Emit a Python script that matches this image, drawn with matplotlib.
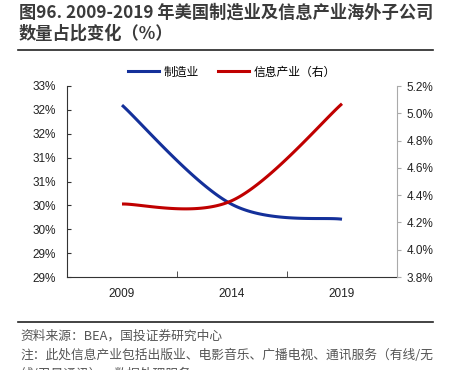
import numpy as np
import matplotlib
matplotlib.use("Agg")
import matplotlib.pyplot as plt
from matplotlib.lines import Line2D

plt.rcParams['font.family'] = ['Noto Sans CJK SC', 'DejaVu Sans']

# data
years = ['2009', '2014', '2019']
manufacturing = [32.60, 30.52, 30.21]   # left axis, %
info_industry = [4.335, 4.36, 5.07]     # right axis, %

left_ticks = [29, 29.5, 30, 30.5, 31, 31.5, 32, 32.5, 33]
left_labels = ['29%', '29%', '30%', '30%', '31%', '31%', '32%', '32%', '33%']
right_ticks = [3.8, 4.0, 4.2, 4.4, 4.6, 4.8, 5.0, 5.2]

BLUE = '#14309a'
RED = '#c00000'


def smooth(xs, ys, n=60):
    # excel-like smoothed line: cubic bezier through the points
    pts = np.column_stack([xs, ys]).astype(float)
    ext = np.vstack([pts[0], pts, pts[-1]])
    out = []
    for i in range(len(pts) - 1):
        p0, p1 = ext[i + 1], ext[i + 2]
        c1 = p0 + (ext[i + 2] - ext[i]) / 6
        c2 = p1 - (ext[i + 3] - ext[i + 1]) / 6
        t = np.linspace(0, 1, n)[:, None]
        seg = ((1 - t) ** 3) * p0 + 3 * ((1 - t) ** 2) * t * c1 + 3 * (1 - t) * t ** 2 * c2 + t ** 3 * p1
        out.append(seg)
    out = np.vstack(out)
    return out[:, 0], out[:, 1]


fig = plt.figure(figsize=(4.49, 3.70), dpi=100)
ax = fig.add_axes([67 / 449, 1 - 277 / 370, 330 / 449, 191 / 370])
ax2 = ax.twinx()

x = np.arange(len(years))
bx, by = smooth(x, manufacturing)
rx, ry = smooth(x, info_industry)
ax.plot(bx, by, color=BLUE, lw=2.2, solid_capstyle='butt')
ax2.plot(rx, ry, color=RED, lw=2.2, solid_capstyle='butt')

ax.set_xlim(-0.5, 2.5)
ax.set_ylim(29, 33)
ax2.set_ylim(3.8, 5.2)

ax.set_xticks(x)
ax.set_xticklabels(years)
ax.set_xticks([0.5, 1.5], minor=True)
ax.tick_params(axis='x', which='major', length=0, pad=8, labelsize=8.5)
ax.tick_params(axis='x', which='minor', length=4, direction='in', color='#333333')

ax.set_yticks(left_ticks)
ax.set_yticklabels(left_labels)
ax.tick_params(axis='y', length=3, direction='in', labelsize=8.5, pad=8, color='#333333')

ax2.set_yticks(right_ticks)
ax2.set_yticklabels(['%.1f%%' % v for v in right_ticks])
ax2.tick_params(axis='y', length=3, direction='out', labelsize=8.5, pad=4, color='#aaaaaa')

for a in (ax, ax2):
    for lab in a.get_xticklabels() + a.get_yticklabels():
        lab.set_family(['Liberation Sans', 'DejaVu Sans'])
        lab.set_color('#222222')
    a.spines['top'].set_visible(False)

ax.spines['left'].set_color('#333333')
ax.spines['bottom'].set_color('#333333')
ax.spines['right'].set_visible(False)
ax2.spines['left'].set_visible(False)
ax2.spines['bottom'].set_visible(False)
ax2.spines['right'].set_color('#aaaaaa')

handles = [Line2D([], [], color=BLUE, lw=2.2), Line2D([], [], color=RED, lw=2.2)]
fig.legend(handles, ['制造业', '信息产业（右）'], loc='center', bbox_to_anchor=(232 / 449, 1 - 72 / 370),
           ncol=2, frameon=False, fontsize=8.5, handlelength=2.6, handletextpad=0.4, columnspacing=1.6)

# title and notes
fig.text(19 / 449, 1 - 13 / 370, '图96. 2009-2019 年美国制造业及信息产业海外子公司', fontsize=12.4,
         fontweight='bold', color='#3a3a3a', va='center', ha='left')
fig.text(19 / 449, 1 - 34 / 370, '数量占比变化（%）', fontsize=12.4,
         fontweight='bold', color='#3a3a3a', va='center', ha='left')
fig.add_artist(Line2D([18 / 449, 433 / 449], [1 - 50 / 370, 1 - 50 / 370], color='#222222', lw=1.2))
fig.add_artist(Line2D([18 / 449, 433 / 449], [1 - 322 / 370, 1 - 322 / 370], color='#222222', lw=1.2))

fig.text(20 / 449, 1 - 336 / 370, '资料来源：BEA，国投证券研究中心', fontsize=9.2, color='#555555',
         va='center', ha='left')
fig.text(20 / 449, 1 - 355 / 370, '注：此处信息产业包括出版业、电影音乐、广播电视、通讯服务（有线/无', fontsize=9.2,
         color='#555555', va='center', ha='left')
fig.text(20 / 449, 1 - 374 / 370, '线/卫星通讯）、数据处理服务', fontsize=9.2, color='#555555',
         va='center', ha='left')

fig.savefig('out.png', dpi=100)
